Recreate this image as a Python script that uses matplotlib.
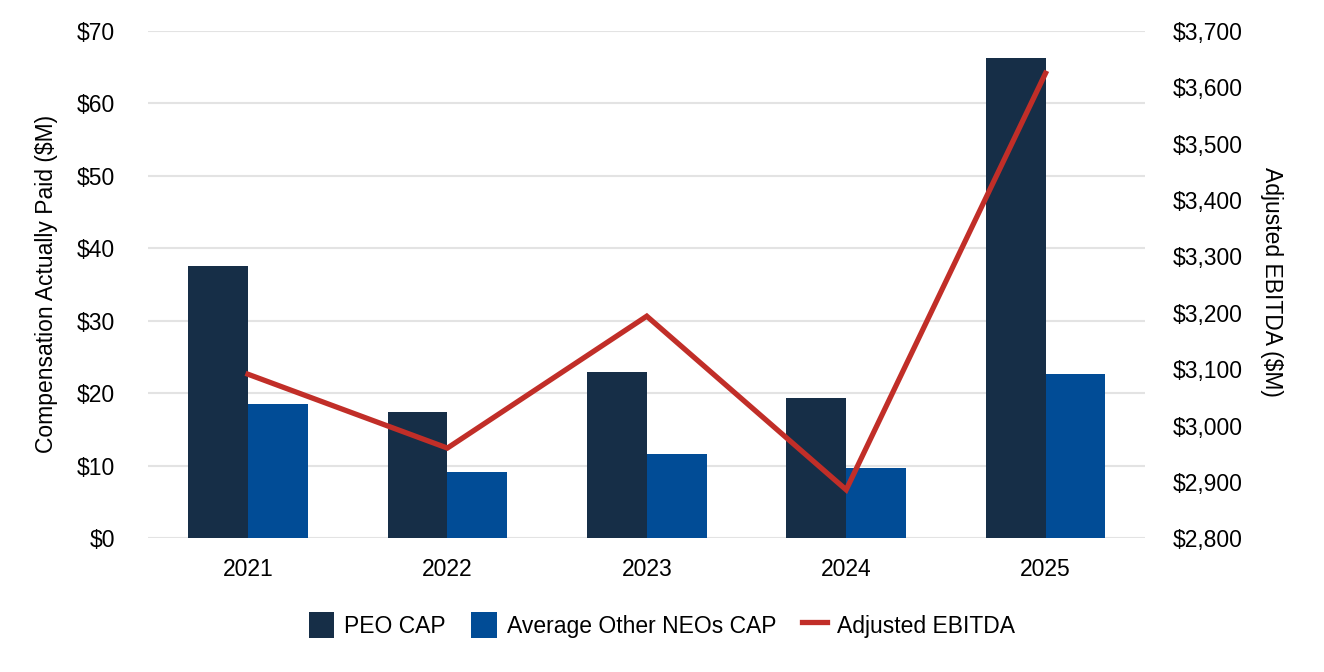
import matplotlib
matplotlib.use("Agg")
import matplotlib.pyplot as plt
import numpy as np
from matplotlib.ticker import FuncFormatter

plt.rcParams['font.family'] = ['Liberation Sans', 'DejaVu Sans']

years = ["2021", "2022", "2023", "2024", "2025"]
peo_cap = [37.6, 17.4, 22.9, 19.3, 66.2]
neo_cap = [18.5, 9.1, 11.6, 9.7, 22.6]
ebitda = [3091, 2960, 3194, 2886, 3625]

peo_color = "#162E47"
neo_color = "#014C96"
line_color = "#C12E28"
FS = 16.5

fig = plt.figure(figsize=(13.24, 6.72), dpi=100)
ax = fig.add_axes([0.112, 0.199, 0.753, 0.755])
x = np.arange(len(years))
w = 0.3
ax.bar(x - w/2, peo_cap, w, color=peo_color, label="PEO CAP", zorder=2)
ax.bar(x + w/2, neo_cap, w, color=neo_color, label="Average Other NEOs CAP", zorder=2)
ax.set_xlim(-0.5, 4.5)
ax.set_ylim(0, 70)
ax.set_yticks(np.arange(0, 71, 10))
ax.yaxis.set_major_formatter(FuncFormatter(lambda v, p: f"${v:,.0f}"))
ax.set_xticks(x)
ax.set_xticklabels(years)
ax.grid(axis='y', color='#E3E3E3', linewidth=1.5, zorder=0)
ax.set_axisbelow(True)
for s in ax.spines.values():
    s.set_visible(False)
ax.tick_params(axis='y', length=0, labelsize=FS, pad=24)
ax.tick_params(axis='x', length=0, labelsize=FS, pad=14)

ax2 = ax.twinx()
ax2.plot(x, ebitda, color=line_color, linewidth=3.8, label="Adjusted EBITDA", zorder=3,
         solid_joinstyle='miter')
ax2.set_ylim(2800, 3700)
ax2.set_yticks(np.arange(2800, 3701, 100))
ax2.yaxis.set_major_formatter(FuncFormatter(lambda v, p: f"${v:,.0f}"))
for s in ax2.spines.values():
    s.set_visible(False)
ax2.tick_params(axis='both', length=0, labelsize=FS, pad=20)

fig.text(47/1324, 1 - 284/672, "Compensation Actually Paid ($M)", rotation=90,
         ha='center', va='center', fontsize=FS)
fig.text(1272/1324, 1 - 282/672, "Adjusted EBITDA ($M)", rotation=270,
         ha='center', va='center', fontsize=FS)

h1, l1 = ax.get_legend_handles_labels()
h2, l2 = ax2.get_legend_handles_labels()
fig.legend(h1 + h2, l1 + l2, loc='center', bbox_to_anchor=(0.5, 1 - 625/672), ncol=3,
           frameon=False, fontsize=FS, handlelength=1.1, handleheight=1.4,
           columnspacing=1.1, handletextpad=0.45)

fig.savefig("out.png", dpi=100)
